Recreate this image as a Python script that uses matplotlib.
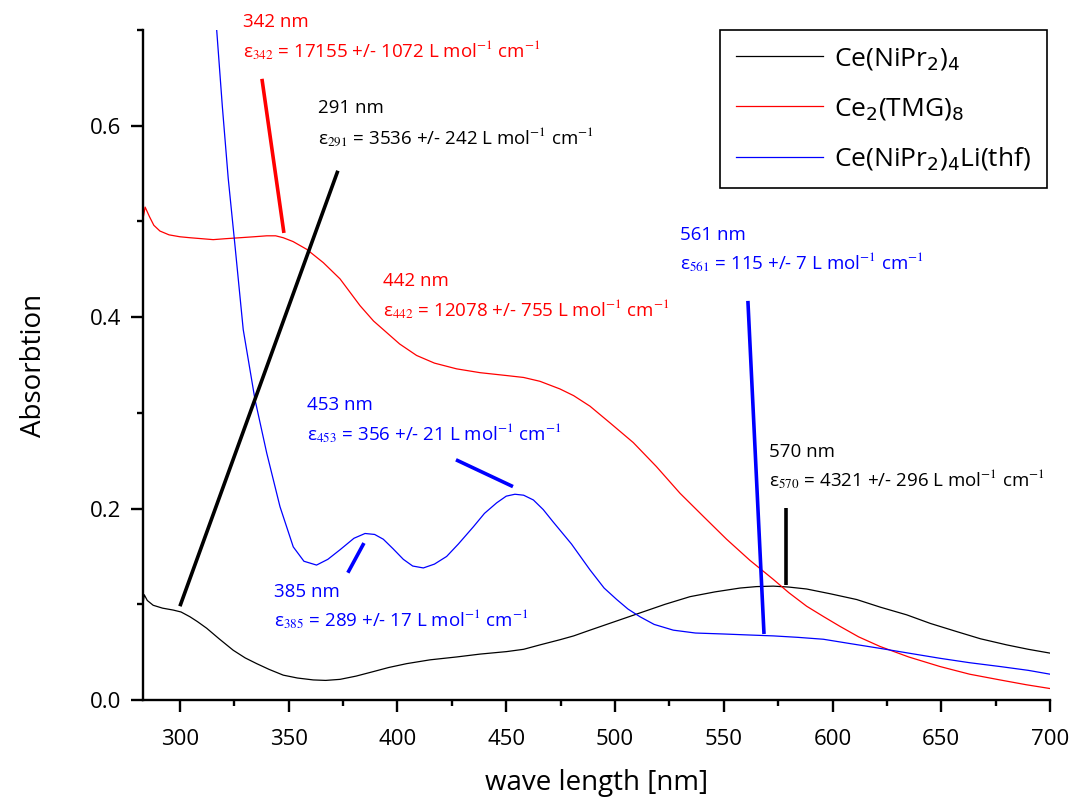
import numpy as np
import matplotlib.pyplot as plt
from matplotlib.ticker import MultipleLocator

plt.rcParams['font.family'] = ['Open Sans', 'DejaVu Sans']

# Ce(NiPr2)4
wl_black = [283.0, 283.6, 285.0, 287.7, 292.0, 296.9, 300.5, 304.6, 308.0, 312.3,
            318.0, 324.5, 330.0, 335.3, 341.0, 347.5, 354.0, 361.3, 367.0, 373.6,
            381.0, 388.9, 396.0, 404.2, 415.0, 427.2, 438.0, 450.2, 458.0, 465.5,
            474.7, 481.0, 488.5, 500.0, 511.5, 523.0, 534.5, 546.0, 557.5, 565.0,
            572.8, 580.0, 588.1, 599.0, 611.1, 622.0, 634.1, 645.0, 657.1, 668.0,
            680.1, 690.0, 700.0]
abs_black = [0.100, 0.110, 0.104, 0.099, 0.096, 0.094, 0.092, 0.087, 0.082, 0.075,
             0.064, 0.052, 0.044, 0.038, 0.032, 0.026, 0.023, 0.021, 0.0205, 0.0216,
             0.025, 0.0297, 0.034, 0.038, 0.042, 0.045, 0.048, 0.0506, 0.053, 0.0576,
             0.063, 0.067, 0.073, 0.082, 0.091, 0.100, 0.108, 0.113, 0.117, 0.1185,
             0.119, 0.118, 0.116, 0.111, 0.105, 0.097, 0.089, 0.080, 0.0715, 0.064,
             0.0576, 0.053, 0.049]

# Ce2(TMG)8
wl_red = [283.2, 284.0, 286.0, 288.0, 290.8, 295.0, 300.0, 304.6, 310.0, 315.3,
          321.0, 327.6, 334.0, 339.9, 344.0, 347.5, 352.0, 358.2, 365.9, 373.6,
          382.8, 389.0, 395.0, 401.0, 408.8, 417.0, 427.2, 438.0, 450.2, 458.0,
          465.5, 474.7, 481.0, 488.5, 498.0, 508.4, 519.0, 529.9, 541.0, 551.3,
          562.0, 572.8, 580.0, 588.1, 596.0, 603.4, 612.0, 621.8, 635.0, 649.4,
          663.0, 677.0, 689.0, 700.0]
abs_red = [0.505, 0.515, 0.505, 0.496, 0.490, 0.486, 0.484, 0.483, 0.482, 0.481,
           0.482, 0.483, 0.484, 0.485, 0.485, 0.483, 0.479, 0.471, 0.457, 0.440,
           0.412, 0.396, 0.384, 0.372, 0.360, 0.352, 0.346, 0.342, 0.339, 0.337,
           0.333, 0.325, 0.318, 0.307, 0.289, 0.269, 0.244, 0.216, 0.191, 0.168,
           0.146, 0.126, 0.112, 0.098, 0.087, 0.077, 0.066, 0.056, 0.045, 0.035,
           0.027, 0.021, 0.016, 0.012]

# Ce(NiPr2)4Li(thf)
wl_blue = [316.9, 319.5, 322.2, 325.3, 329.1, 334.5, 339.9, 346.0, 352.1, 357.0,
           362.8, 368.0, 373.6, 380.0, 385.1, 389.5, 393.5, 398.0, 402.7, 407.0,
           411.9, 417.0, 422.6, 428.0, 434.9, 440.0, 445.6, 450.0, 454.0, 458.0,
           462.5, 467.0, 471.6, 480.0, 488.5, 495.0, 500.8, 506.0, 511.5, 518.0,
           526.8, 537.0, 549.8, 561.0, 572.8, 584.0, 595.8, 608.0, 621.8, 635.0,
           649.4, 663.0, 677.0, 690.0, 700.0]
abs_blue = [0.700, 0.620, 0.545, 0.475, 0.387, 0.314, 0.258, 0.202, 0.160, 0.145,
            0.141, 0.147, 0.157, 0.169, 0.174, 0.173, 0.168, 0.158, 0.147, 0.140,
            0.138, 0.142, 0.150, 0.163, 0.181, 0.195, 0.206, 0.213, 0.215, 0.214,
            0.209, 0.199, 0.186, 0.163, 0.136, 0.117, 0.105, 0.095, 0.087, 0.079,
            0.073, 0.070, 0.069, 0.068, 0.067, 0.0655, 0.0635, 0.059, 0.054, 0.049,
            0.0436, 0.039, 0.035, 0.031, 0.027]

# peak annotations: wavelength, epsilon, error, colour
peak_nm = [342, 291, 442, 561, 453, 385, 570]
peak_eps = [17155, 3536, 12078, 115, 356, 289, 4321]
peak_err = [1072, 242, 755, 7, 21, 17, 296]
peak_col = ['red', 'black', 'red', 'blue', 'blue', 'blue', 'black']
# text anchor (left x, baseline of first line, baseline of second line)
lab_x = [329.0, 363.4, 393.5, 529.9, 358.2, 343.2, 570.8]
lab_y1 = [0.703, 0.613, 0.433, 0.481, 0.303, 0.1075, 0.254]
lab_y2 = [0.672, 0.581, 0.401, 0.450, 0.2715, 0.0768, 0.2234]
# leader lines
lead_x = [(337.7, 347.8), (300.0, 372.6), None, (561.1, 568.5), (426.9, 453.1), (377.2, 384.6), (578.6, 578.6)]
lead_y = [(0.649, 0.488), (0.098, 0.553), None, (0.417, 0.069), (0.251, 0.223), (0.133, 0.164), (0.201, 0.120)]

fig = plt.figure(figsize=(10.74, 8.05), dpi=100)
ax = fig.add_axes([0.1331, 0.1304, 0.8446, 0.8323])

ax.plot(wl_black, abs_black, color='black', lw=0.9, label='Ce(NiPr$_2$)$_4$')
ax.plot(wl_red, abs_red, color='red', lw=0.9, label='Ce$_2$(TMG)$_8$')
ax.plot(wl_blue, abs_blue, color='blue', lw=0.9, label='Ce(NiPr$_2$)$_4$Li(thf)')

for i in range(len(peak_nm)):
    c = peak_col[i]
    if lead_x[i] is not None:
        ax.plot(lead_x[i], lead_y[i], color=c, lw=2.6, solid_capstyle='butt')
    ax.text(lab_x[i], lab_y1[i], '%d nm' % peak_nm[i], color=c, fontsize=13.5,
            va='baseline', ha='left', clip_on=False)
    ax.text(lab_x[i], lab_y2[i],
            'ε$_{%d}$ = %d +/- %d L mol$^{-1}$ cm$^{-1}$' % (peak_nm[i], peak_eps[i], peak_err[i]),
            color=c, fontsize=13.5, va='baseline', ha='left', clip_on=False,
            math_fontfamily='stix')

ax.set_xlim(283, 700)
ax.set_ylim(0, 0.7)
ax.xaxis.set_major_locator(MultipleLocator(50))
ax.xaxis.set_minor_locator(MultipleLocator(25))
ax.yaxis.set_major_locator(MultipleLocator(0.2))
ax.yaxis.set_minor_locator(MultipleLocator(0.1))
ax.yaxis.set_major_formatter(plt.FuncFormatter(lambda v, p: '%.1f' % v))

for s in ['top', 'right']:
    ax.spines[s].set_visible(False)
for s in ['left', 'bottom']:
    ax.spines[s].set_linewidth(1.7)
ax.tick_params(which='major', direction='out', length=8.5, width=1.7, labelsize=16, pad=7)
ax.tick_params(axis='x', which='major', pad=12)
ax.tick_params(which='minor', direction='out', length=4.5, width=1.7)

ax.set_xlabel('wave length [nm]', fontsize=20, labelpad=14)
ax.set_ylabel('Absorbtion', fontsize=20, labelpad=30)

leg = ax.legend(loc='upper right', bbox_to_anchor=(0.997, 1.0), borderaxespad=0,
                fontsize=19, fancybox=False, framealpha=1, edgecolor='black',
                handlelength=3.3, labelspacing=0.9, handletextpad=0.45,
                borderpad=0.6)
leg.get_frame().set_linewidth(1.2)

fig.savefig('out.png', dpi=100)
